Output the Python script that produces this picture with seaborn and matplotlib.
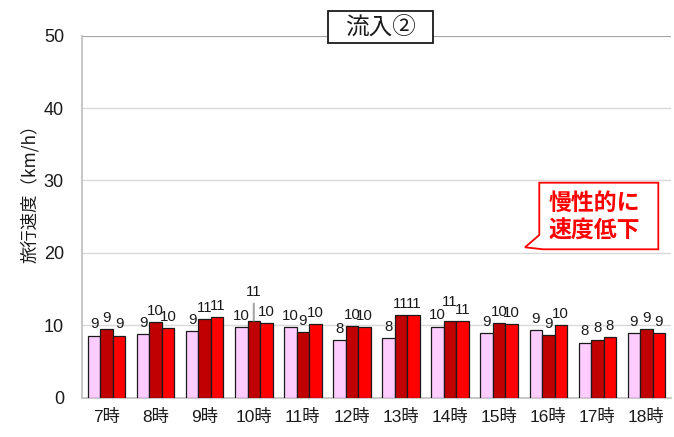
import numpy as np
import pandas as pd
import matplotlib
matplotlib.use("Agg")
import matplotlib.pyplot as plt
from matplotlib.patches import Polygon, Rectangle
import seaborn as sns

# Travel speed (km/h) by hour for three survey runs
hours = ["7時", "8時", "9時", "10時", "11時", "12時",
         "13時", "14時", "15時", "16時", "17時", "18時"]
run_a = [8.55, 8.75, 9.2, 9.7, 9.7, 7.9, 8.25, 9.8, 8.85, 9.35, 7.6, 8.9]
run_b = [9.4, 10.4, 10.8, 10.55, 9.0, 9.85, 11.4, 10.55, 10.3, 8.6, 8.0, 9.4]
run_c = [8.55, 9.6, 11.15, 10.3, 10.2, 9.75, 11.4, 10.52, 10.2, 10.05, 8.3, 8.95]
run_names = ["調査1", "調査2", "調査3"]
run_colors = ["#FFCCFF", "#C00000", "#FF0000"]

title = "流入②"
y_label = "旅行速度（km/h）"
note = "慢性的に\n速度低下"

df = pd.DataFrame({
    "hour": hours * 3,
    "speed": run_a + run_b + run_c,
    "run": [run_names[0]] * 12 + [run_names[1]] * 12 + [run_names[2]] * 12,
})

sns.set_theme(style="white")
plt.rcParams["font.family"] = ["Liberation Sans", "Noto Sans CJK JP", "DejaVu Sans"]
cjk = ["Noto Sans CJK JP", "DejaVu Sans"]

fig = plt.figure(figsize=(6.74, 4.37), dpi=100)
ax = fig.add_axes([82 / 674, 1 - 397.5 / 437, 589 / 674, (397.5 - 35.7) / 437])

sns.barplot(data=df, x="hour", y="speed", hue="run", order=hours,
            hue_order=run_names, palette=run_colors, saturation=1,
            width=0.765, gap=0, edgecolor="#1a1a1a", linewidth=0.9,
            errorbar=None, legend=False, ax=ax, zorder=3)

ax.set_ylim(0, 50)
ax.set_xlim(-0.5, 11.5)
ax.set_yticks(np.arange(0, 51, 10))
for yv in range(10, 50, 10):
    ax.axhline(yv, color="#D9D9D9", lw=1.0, zorder=1)
ax.axhline(50, color="#A6A6A6", lw=1.6, zorder=1)

for side in ["top", "right"]:
    ax.spines[side].set_visible(False)
ax.spines["left"].set_color("#BFBFBF")
ax.spines["bottom"].set_color("#BFBFBF")
ax.spines["bottom"].set_linewidth(1.2)

ax.tick_params(axis="y", length=0, pad=13, labelsize=13, colors="#1a1a1a")
ax.tick_params(axis="x", length=0, pad=8, labelsize=12.5, colors="#1a1a1a")
for t in ax.get_xticklabels():
    t.set_family(["Liberation Sans", "Noto Sans CJK JP"])
ax.set_xlabel("")
ax.set_ylabel("")

# Value labels above each bar; a few are lifted to keep them apart
lifts = {(1, 3): 13, (1, 7): 6}
for ci, cont in enumerate(ax.containers):
    for hi, (patch, v) in enumerate(zip(cont.patches, cont.datavalues)):
        xc = patch.get_x() + patch.get_width() / 2
        lift = lifts.get((ci, hi), 0)
        arrow = None
        if lift >= 10:
            arrow = dict(arrowstyle="-", color="#A6A6A6", lw=1.5,
                         shrinkA=1, shrinkB=0.5)
        ax.annotate(f"{v:.0f}", xy=(xc, v), xytext=(0, 3 + lift),
                    textcoords="offset points", ha="center", va="bottom",
                    fontsize=10.8, color="#1a1a1a", zorder=4,
                    arrowprops=arrow)

fig.text(30 / 674, 1 - 189 / 437, y_label, rotation=90, ha="center",
         va="center", fontsize=12.5, color="#1a1a1a", family=cjk)

# Title in a framed box over the top gridline
fig.add_artist(Rectangle((328 / 674, 1 - 43 / 437), 105 / 674, 32 / 437,
                         transform=fig.transFigure, fc="white",
                         ec="#1a1a1a", lw=1.3, zorder=5))
fig.text(381 / 674, 1 - 27.5 / 437, title, ha="center", va="center",
         fontsize=17, color="#1a1a1a", family=cjk, zorder=6)

# Callout balloon
pts = [(539.3, 182.7), (658.3, 182.7), (658.3, 249.3), (543.3, 249.3),
       (525.0, 247.3), (539.3, 235.0)]
balloon = Polygon([(x / 674, 1 - y / 437) for x, y in pts], closed=True,
                  fc="white", ec="#FF0000", lw=1.3, transform=fig.transFigure,
                  zorder=5)
fig.add_artist(balloon)
fig.text(594 / 674, 1 - 217 / 437, note, ha="center", va="center",
         fontsize=16.5, fontweight="bold", color="#FF0000", linespacing=1.25,
         family=cjk, zorder=6)

fig.savefig("out.png", dpi=100)
